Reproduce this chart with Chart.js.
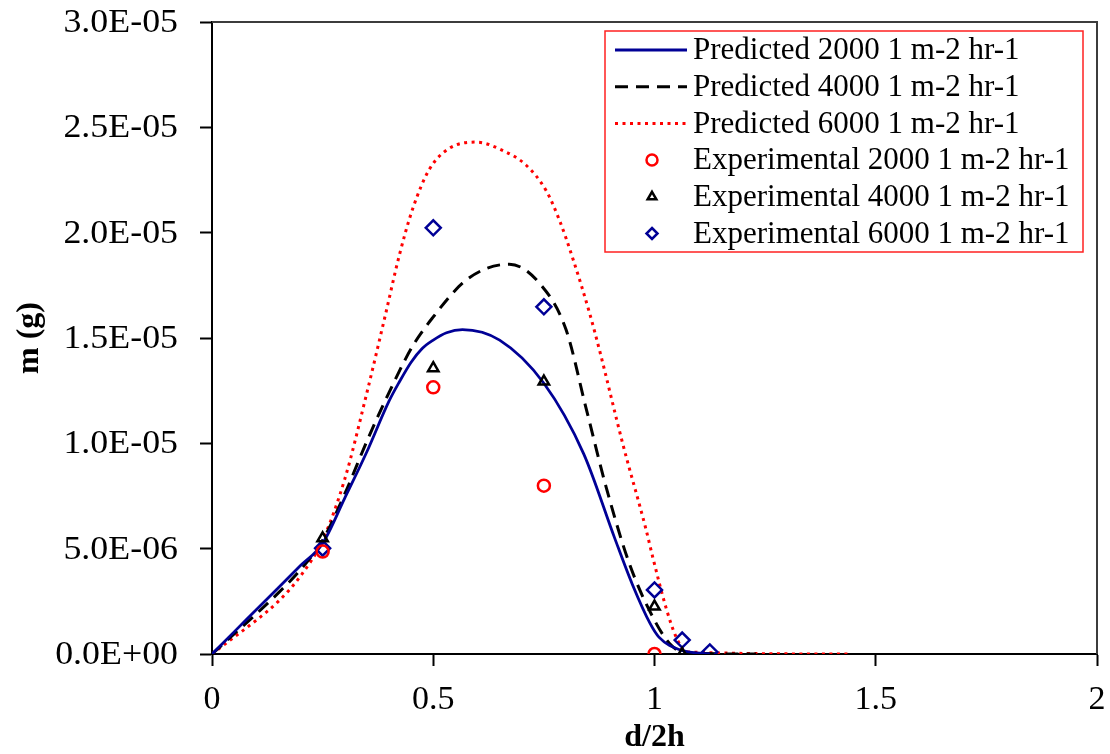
<!DOCTYPE html>
<html>
<head>
<meta charset="utf-8">
<script src="https://cdn.jsdelivr.net/npm/chart.js@4.4.1/dist/chart.umd.min.js"></script>
<style>
  html, body { margin: 0; padding: 0; background: #fff; }
  canvas { display: block; }
</style>
</head>
<body>
<canvas id="chart" width="1110" height="754"></canvas>
<script>
// values (y in grams)
const xPred2000 = [0, 0.05, 0.1, 0.15, 0.2, 0.25, 0.3, 0.35, 0.4, 0.423, 0.45, 0.475, 0.5, 0.53, 0.566, 0.65, 0.75, 0.84, 0.91, 0.95, 0.99, 1.01, 1.057, 1.125];
const yPred2000 = [0, 1.05e-6, 2.1e-6, 3.15e-6, 4.2e-6, 5.25e-6, 7.4e-6, 9.6e-6, 1.2e-5, 1.29e-5, 1.385e-5, 1.45e-5, 1.49e-5, 1.525e-5, 1.54e-5, 1.49e-5, 1.285e-5, 9.5e-6, 5.5e-6, 3.3e-6, 1.45e-6, 8e-7, 2e-7, 0];

const xPred4000 = [0, 0.05, 0.1, 0.15, 0.2, 0.25, 0.3, 0.35, 0.393, 0.453, 0.5, 0.566, 0.62, 0.672, 0.74, 0.8, 0.845, 0.891, 0.943, 0.995, 1.034, 1.07, 1.23];
const yPred4000 = [0, 9.5e-7, 1.9e-6, 2.9e-6, 4.0e-6, 5.4e-6, 7.6e-6, 1.01e-5, 1.21e-5, 1.46e-5, 1.6e-5, 1.76e-5, 1.83e-5, 1.85e-5, 1.76e-5, 1.54e-5, 1.17e-5, 7.9e-6, 4.3e-6, 1.8e-6, 5e-7, 5e-8, 0];

const xPred6000 = [0, 0.05, 0.1, 0.15, 0.2, 0.25, 0.3, 0.35, 0.393, 0.423, 0.453, 0.491, 0.536, 0.597, 0.657, 0.71, 0.755, 0.785, 0.815, 0.853, 0.876, 0.928, 0.981, 0.996, 1.026, 1.049, 1.072, 1.44];
const yPred6000 = [0, 8e-7, 1.6e-6, 2.5e-6, 3.7e-6, 5.4e-6, 8.3e-6, 1.24e-5, 1.62e-5, 1.89e-5, 2.11e-5, 2.3e-5, 2.4e-5, 2.43e-5, 2.39e-5, 2.32e-5, 2.2e-5, 2.06e-5, 1.88e-5, 1.62e-5, 1.44e-5, 1.0e-5, 5.9e-6, 4.6e-6, 2.2e-6, 8e-7, 1e-7, 0];

const xExp2000 = [0.25, 0.5, 0.75, 1.0];
const yExp2000 = [4.86e-6, 1.266e-5, 7.99e-6, 0];
const xExp4000 = [0.25, 0.5, 0.75, 1.0, 1.0625];
const yExp4000 = [5.49e-6, 1.357e-5, 1.293e-5, 2.25e-6, 0];
const xExp6000 = [0.25, 0.5, 0.75, 1.0, 1.0625, 1.125];
const yExp6000 = [5.02e-6, 2.023e-5, 1.648e-5, 3.04e-6, 6.6e-7, 1e-7];

const seriesLabels = [
  'Predicted 2000 1 m-2 hr-1',
  'Predicted 4000 1 m-2 hr-1',
  'Predicted 6000 1 m-2 hr-1',
  'Experimental 2000 1 m-2 hr-1',
  'Experimental 4000 1 m-2 hr-1',
  'Experimental 6000 1 m-2 hr-1'
];
const xTicks = [0, 0.5, 1, 1.5, 2];
const yTicks = [0, 5e-6, 1e-5, 1.5e-5, 2e-5, 2.5e-5, 3e-5];

const SERIF = '"Liberation Serif", "Times New Roman", serif';
const NAVY = '#000096';

function pts(xs, ys) {
  return xs.map((x, i) => ({ x: x, y: ys[i] }));
}

// 3.0E-05 style
function sci(v) {
  if (Math.abs(v) < 1e-12) return '0.0E+00';
  const parts = v.toExponential(1).toUpperCase().split('E');
  const n = parseInt(parts[1], 10);
  return parts[0] + 'E' + (n < 0 ? '-' : '+') + String(Math.abs(n)).padStart(2, '0');
}

function lineSet(label, xs, ys, color, dash, width) {
  return {
    label: label, data: pts(xs, ys), showLine: true,
    borderColor: color, borderWidth: width, borderDash: dash,
    pointRadius: 0, cubicInterpolationMode: 'monotone', order: 2
  };
}

function markerSet(label, xs, ys, color, style, radius) {
  return {
    label: label, data: pts(xs, ys), showLine: false,
    pointStyle: style, pointRadius: radius, pointHoverRadius: radius,
    borderColor: color, backgroundColor: 'rgba(255,255,255,0)', pointBorderWidth: 2.5, order: 1
  };
}

// frame on top and right side of the plot area
const framePlugin = {
  id: 'frame',
  beforeDatasetsDraw(chart) {
    const a = chart.chartArea, ctx = chart.ctx;
    ctx.save();
    ctx.strokeStyle = '#3c3c3c';
    ctx.lineWidth = 2;
    ctx.beginPath();
    ctx.moveTo(a.left, a.top);
    ctx.lineTo(a.right, a.top);
    ctx.lineTo(a.right, a.bottom);
    ctx.stroke();
    ctx.restore();
  }
};

// y labels drawn by hand, a bit wider like the original
const yLabels = {
  id: 'yLabels',
  afterDraw(chart) {
    const ctx = chart.ctx, sc = chart.scales.y;
    ctx.save();
    ctx.font = '34px ' + SERIF;
    ctx.fillStyle = '#000';
    ctx.textAlign = 'right';
    ctx.textBaseline = 'middle';
    yTicks.forEach(v => {
      ctx.save();
      ctx.translate(178, sc.getPixelForValue(v) + 1);
      ctx.scale(1.055, 1);
      ctx.fillText(sci(v), 0, 0);
      ctx.restore();
    });
    ctx.restore();
  }
};

function drawMarker(ctx, style, x, y, r) {
  ctx.beginPath();
  if (style === 'circle') {
    ctx.arc(x, y, r, 0, Math.PI * 2);
  } else if (style === 'triangle') {
    for (let k = 0; k < 3; k++) {
      const a = -Math.PI / 2 + k * 2 * Math.PI / 3;
      if (k === 0) ctx.moveTo(x + Math.cos(a) * r, y + Math.sin(a) * r);
      else ctx.lineTo(x + Math.cos(a) * r, y + Math.sin(a) * r);
    }
    ctx.closePath();
  } else {
    ctx.moveTo(x, y - r); ctx.lineTo(x + r, y); ctx.lineTo(x, y + r); ctx.lineTo(x - r, y);
    ctx.closePath();
  }
  ctx.stroke();
}

// boxed legend inside the plot, like the excel original
const boxLegend = {
  id: 'boxLegend',
  afterDraw(chart) {
    const ctx = chart.ctx;
    const left = 605, top = 31, w = 478, h = 221;
    ctx.save();
    ctx.fillStyle = '#fff';
    ctx.fillRect(left, top, w, h);
    ctx.strokeStyle = '#ff2020';
    ctx.lineWidth = 1.5;
    ctx.strokeRect(left, top, w, h);
    ctx.font = '31px ' + SERIF;
    ctx.textBaseline = 'middle';
    ctx.fillStyle = '#000';
    chart.data.datasets.forEach((ds, i) => {
      const y = 50 + i * 36.7;
      ctx.strokeStyle = ds.borderColor;
      if (ds.showLine) {
        ctx.lineWidth = ds.borderWidth;
        ctx.setLineDash(ds.borderDash || []);
        ctx.beginPath();
        ctx.moveTo(615, y);
        ctx.lineTo(687, y);
        ctx.stroke();
        ctx.setLineDash([]);
      } else {
        ctx.lineWidth = 2.5;
        drawMarker(ctx, ds.pointStyle, 652, y, ds.pointStyle === 'triangle' ? 5 : 5.5);
      }
      ctx.fillText(ds.label, 693, y + 1);
    });
    ctx.restore();
  }
};

const ctx = document.getElementById('chart').getContext('2d');
const chart = new Chart(ctx, {
  type: 'scatter',
  data: {
    datasets: [
      lineSet(seriesLabels[0], xPred2000, yPred2000, NAVY, [], 2.8),
      lineSet(seriesLabels[1], xPred4000, yPred4000, '#000', [13, 8], 3),
      lineSet(seriesLabels[2], xPred6000, yPred6000, '#ff0000', [3, 4.5], 3),
      markerSet(seriesLabels[3], xExp2000, yExp2000, '#ff0000', 'circle', 6),
      markerSet(seriesLabels[4], xExp4000, yExp4000, '#000', 'triangle', 6),
      markerSet(seriesLabels[5], xExp6000, yExp6000, NAVY, 'rectRot', 7.5)
    ]
  },
  options: {
    responsive: false,
    animation: false,
    devicePixelRatio: 1,
    layout: { padding: { top: 22, right: 13, bottom: 0, left: 0 } },
    plugins: {
      legend: { display: false },
      tooltip: { enabled: false }
    },
    scales: {
      x: {
        type: 'linear',
        min: 0, max: 2,
        afterBuildTicks: function(scale) { scale.ticks = xTicks.map(v => ({ value: v })); },
        afterFit: function(scale) {
          scale.height = 100;
          scale.paddingLeft = 0;
          scale.paddingRight = 0;
        },
        ticks: {
          color: '#000', padding: 14, maxRotation: 0, autoSkip: false,
          font: { family: SERIF, size: 34 },
          callback: v => String(v)
        },
        grid: { drawOnChartArea: false, drawTicks: true, tickLength: 12, color: '#000', tickWidth: 2 },
        border: { display: true, color: '#000', width: 2 },
        title: {
          display: true, text: 'd/2h', color: '#000',
          font: { family: SERIF, size: 32, weight: 'bold', lineHeight: 1 },
          padding: { top: 0, bottom: 0 }
        }
      },
      y: {
        type: 'linear',
        min: 0, max: 3e-5,
        afterBuildTicks: function(scale) { scale.ticks = yTicks.map(v => ({ value: v })); },
        afterFit: function(scale) { scale.width = 212; },
        ticks: { display: false },
        grid: { drawOnChartArea: false, drawTicks: true, tickLength: 12, color: '#000', tickWidth: 2 },
        border: { display: true, color: '#000', width: 2 },
        title: {
          display: true, text: 'm (g)', color: '#000',
          font: { family: SERIF, size: 32, weight: 'bold', lineHeight: 1 },
          padding: { top: 14, bottom: 0 }
        }
      }
    }
  },
  plugins: [framePlugin, yLabels, boxLegend]
});
</script>
</body>
</html>
